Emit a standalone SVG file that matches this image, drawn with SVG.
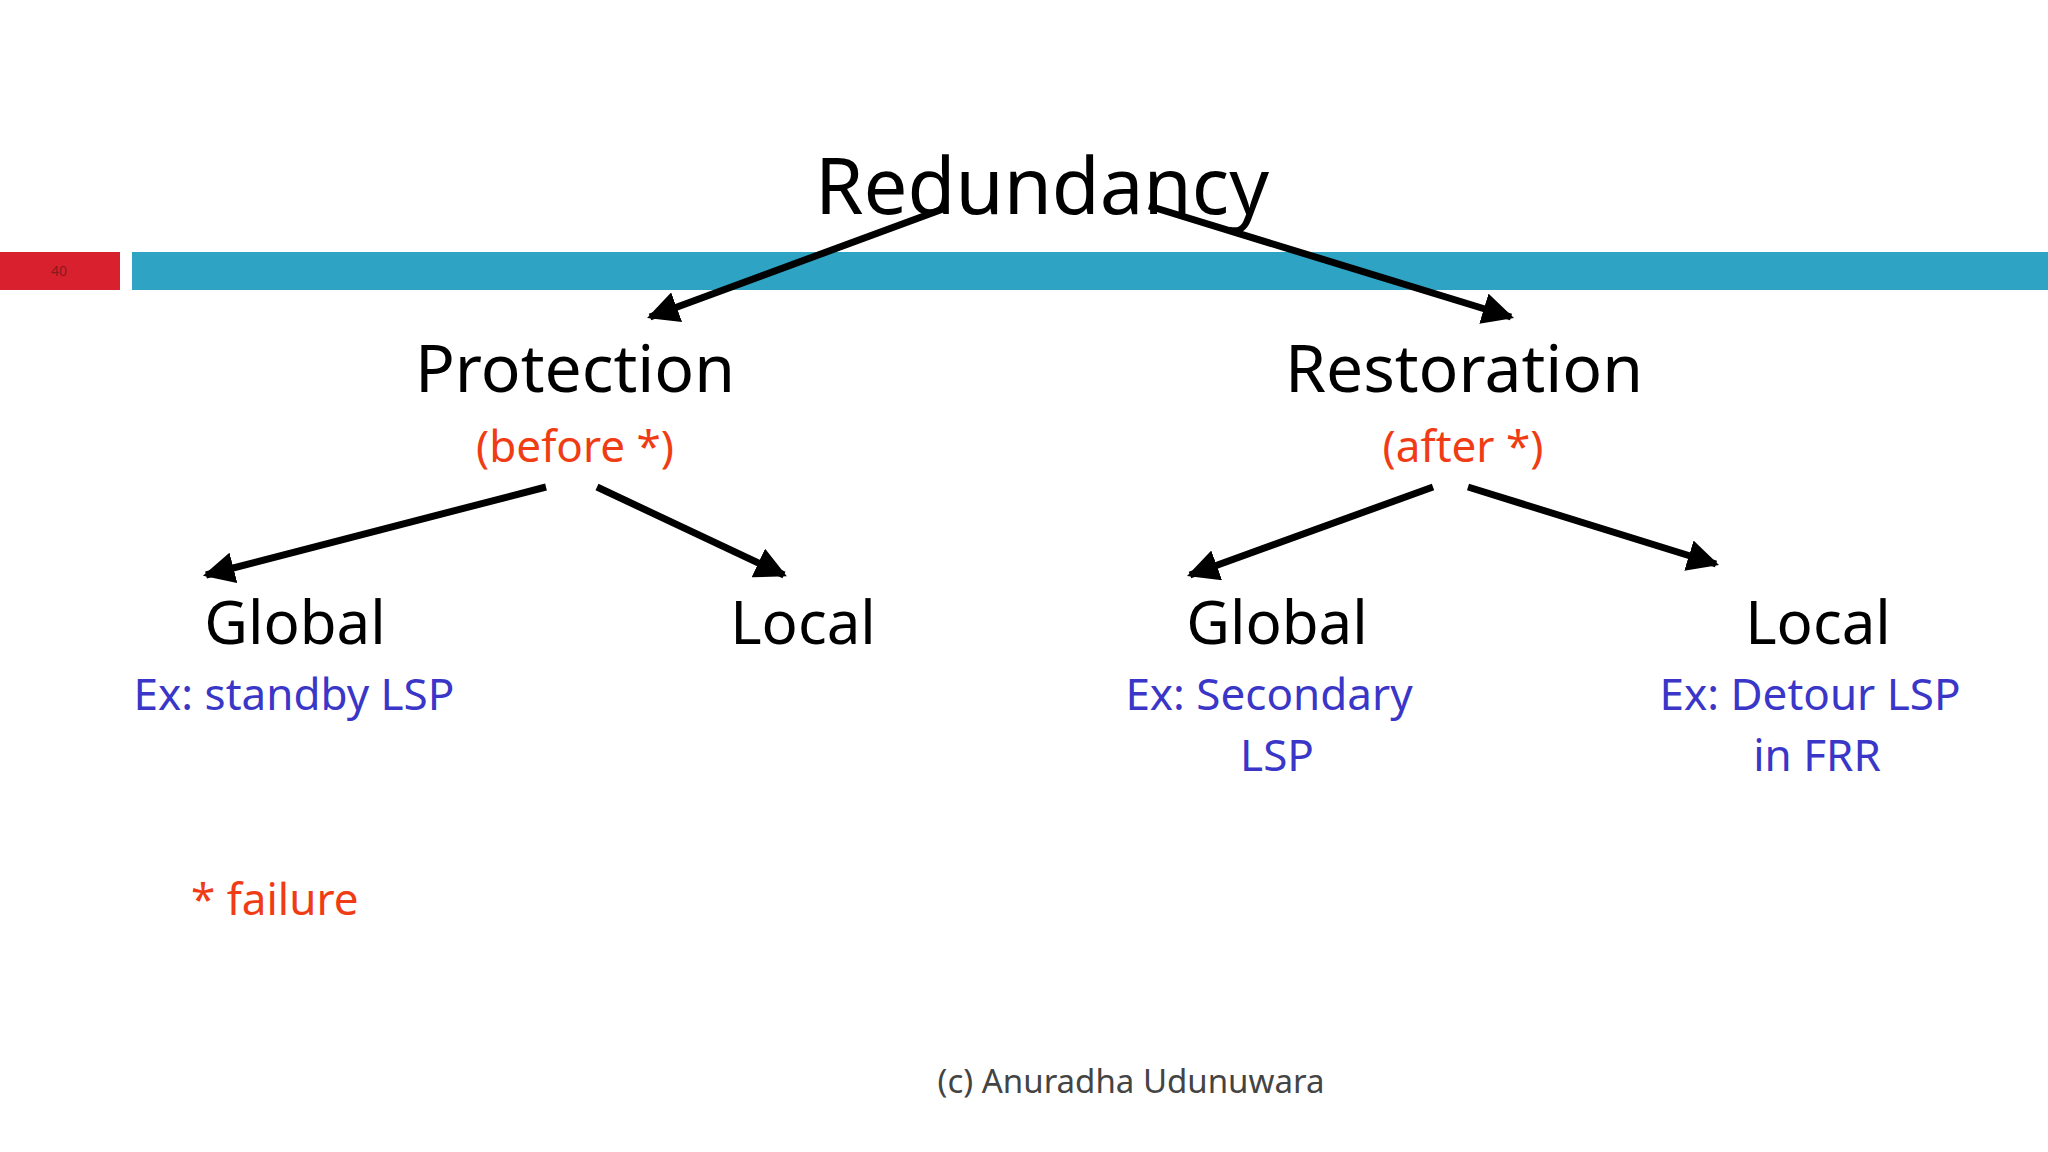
<svg xmlns="http://www.w3.org/2000/svg" width="2048" height="1152" viewBox="0 0 2048 1152">
<style>
text{font-family:"Noto Sans","DejaVu Sans",sans-serif;text-anchor:middle}
.h{fill:#000}
.r{fill:#F03C14}
.b{fill:#3A36C8}
.c line{stroke:#000;stroke-width:7;marker-end:url(#a)}
</style>
<defs><marker id="a" viewBox="0 0 10 10" refX="9" refY="5" markerWidth="4.5" markerHeight="4.5" orient="auto" markerUnits="strokeWidth"><path d="M0,0L10,5L0,10z" fill="#000"/></marker></defs>
<rect width="2048" height="1152" fill="#fff"/>
<rect x="0" y="252" width="120" height="38" fill="#D9202E"/>
<rect x="132" y="252" width="1916" height="38" fill="#2EA3C3"/>
<text x="59" y="276" font-size="14" fill="#8B1A1A">40</text>
<g id="redundancy"><text class="h" x="1042" y="214" font-size="78">Redundancy</text></g>
<g id="protection"><text class="h" x="575" y="392" font-size="66">Protection</text><text class="r" x="575" y="462" font-size="44">(before *)</text></g>
<g id="restoration"><text class="h" x="1464" y="392" font-size="66">Restoration</text><text class="r" x="1463" y="462" font-size="44">(after *)</text></g>
<g id="pglobal"><text class="h" x="295" y="644" font-size="60">Global</text><text class="b" x="294" y="710" font-size="44">Ex: standby LSP</text></g>
<g id="plocal"><text class="h" x="803" y="644" font-size="60">Local</text></g>
<g id="rglobal"><text class="h" x="1277" y="644" font-size="60">Global</text><text class="b" x="1269" y="710" font-size="44">Ex: Secondary</text><text class="b" x="1277" y="771" font-size="44">LSP</text></g>
<g id="rlocal"><text class="h" x="1818" y="644" font-size="60">Local</text><text class="b" x="1810" y="710" font-size="44">Ex: Detour LSP</text><text class="b" x="1817" y="771" font-size="44">in FRR</text></g>
<g class="c" id="connectors">
<line x1="943" y1="209" x2="650" y2="317"/>
<line x1="1149" y1="206" x2="1511" y2="317"/>
<line x1="546" y1="487" x2="206" y2="575"/>
<line x1="597" y1="487" x2="784" y2="575"/>
<line x1="1433" y1="487" x2="1190" y2="575"/>
<line x1="1468" y1="487" x2="1716" y2="564"/>
</g>
<text class="r" x="191" y="915" font-size="44" style="text-anchor:start">* failure</text>
<text x="1131" y="1093" font-size="33" fill="#444">(c) Anuradha Udunuwara</text>
</svg>
